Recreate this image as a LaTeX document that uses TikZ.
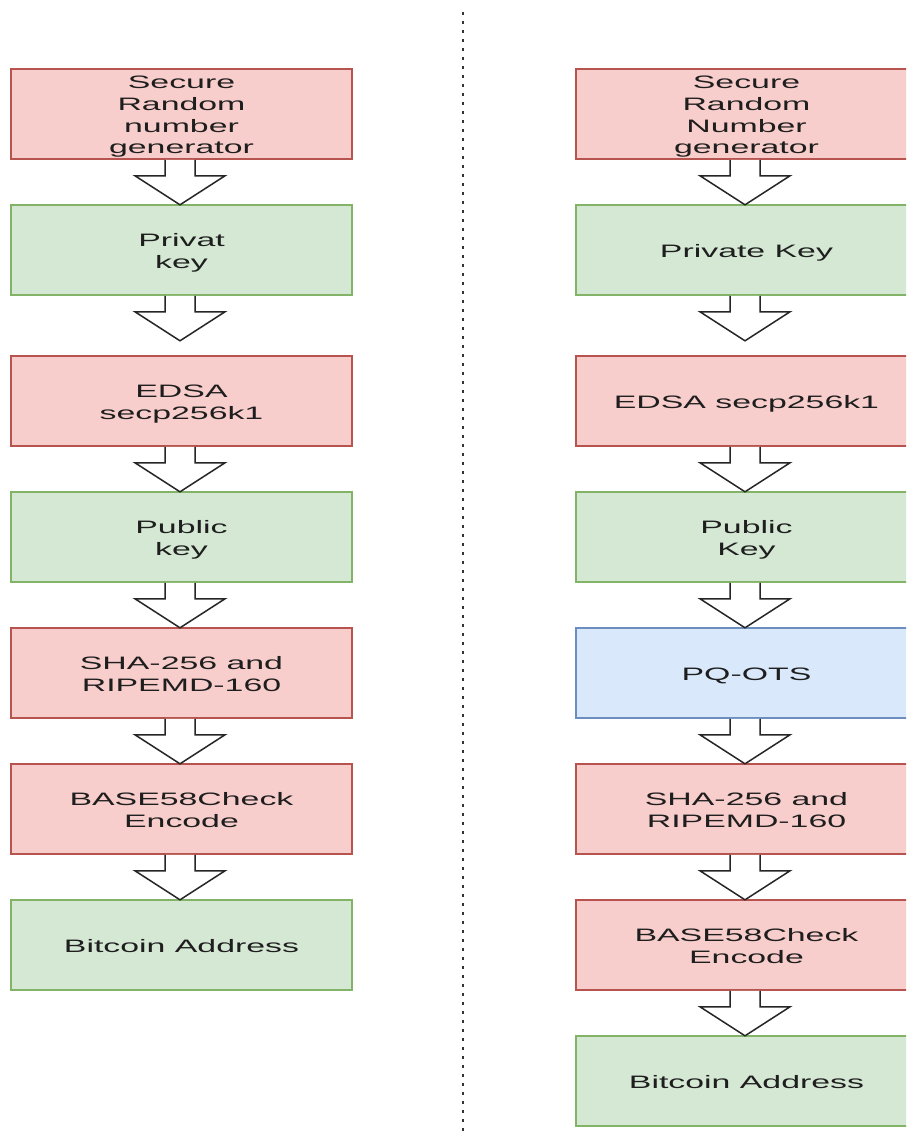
\documentclass[tikz,border=0pt]{standalone}
\usepackage{fontspec}
\setmainfont{Liberation Sans}
\usepackage{graphicx}
\usetikzlibrary{calc}

\definecolor{redfill}{HTML}{F8CECC}
\definecolor{redline}{HTML}{B85450}
\definecolor{greenfill}{HTML}{D5E8D4}
\definecolor{greenline}{HTML}{82B366}
\definecolor{bluefill}{HTML}{DAE8FC}
\definecolor{blueline}{HTML}{6C8EBF}
\definecolor{inkgray}{HTML}{1E1E1E}

% box captions: wide sans-serif lettering, centred lines, set slightly low
\newcommand\boxlabel[1]{\raisebox{-3pt}[\height][\depth]{\scalebox{1.88}[1]{\fontsize{18}{21.6}\selectfont\begin{tabular}{@{}c@{}}#1\end{tabular}}}}

\tikzset{
  stagebox/.style={rectangle, minimum width=341pt, minimum height=90pt,
    inner sep=0pt, line width=1.6pt, text=inkgray},
  redbox/.style={stagebox, fill=redfill, draw=redline},
  greenbox/.style={stagebox, fill=greenfill, draw=greenline},
  bluebox/.style={stagebox, fill=bluefill, draw=blueline},
  divider/.style={line width=2pt, draw=black!80, dash pattern=on 3pt off 6pt},
  arrowline/.style={fill=white, draw=black!85, line width=1.5pt, line join=miter},
  pics/flowarrow/.style={code={
    \filldraw[arrowline] (-15,0) -- (-15,16) -- (-45,16) -- (0,45)
      -- (45,16) -- (15,16) -- (15,0);
  }},
}

\begin{document}
\begin{tikzpicture}[x=1pt, y=-1pt]
\useasboundingbox (0,0) rectangle (906,1135);
\clip (0,0) rectangle (906,1135);
\fill[white] (0,0) rectangle (906,1135);

% dotted separator between the two pipelines
\coordinate (sepTop) at (463,12);
\coordinate (sepBot) at (463,1136);
\draw[divider] (sepTop) -- (sepBot);

% classic address derivation
\node[redbox]   (L1) at (181.5,114) {\boxlabel{Secure\\Random\\number\\generator}};
\node[greenbox] (L2) at (181.5,250) {\boxlabel{Privat\\key}};
\node[redbox]   (L3) at (181.5,401) {\boxlabel{EDSA\\secp256k1}};
\node[greenbox] (L4) at (181.5,537) {\boxlabel{Public\\key}};
\node[redbox]   (L5) at (181.5,673) {\boxlabel{SHA-256 and\\RIPEMD-160}};
\node[redbox]   (L6) at (181.5,809) {\boxlabel{BASE58Check\\Encode}};
\node[greenbox] (L7) at (181.5,945) {\boxlabel{Bitcoin Address}};

% derivation with a post-quantum one-time signature step
\node[redbox]   (R1) at (746.5,114)  {\boxlabel{Secure\\Random\\Number\\generator}};
\node[greenbox] (R2) at (746.5,250)  {\boxlabel{Private Key}};
\node[redbox]   (R3) at (746.5,401)  {\boxlabel{EDSA secp256k1}};
\node[greenbox] (R4) at (746.5,537)  {\boxlabel{Public\\Key}};
\node[bluebox]  (R5) at (746.5,673)  {\boxlabel{PQ-OTS}};
\node[redbox]   (R6) at (746.5,809)  {\boxlabel{SHA-256 and\\RIPEMD-160}};
\node[redbox]   (R7) at (746.5,945)  {\boxlabel{BASE58Check\\Encode}};
\node[greenbox] (R8) at (746.5,1081) {\boxlabel{Bitcoin Address}};

% block arrows hanging below each stage
\foreach \src in {L1,L2,L3,L4,L5,L6,R1,R2,R3,R4,R5,R6,R7}
  \pic at ($(\src.south)+(-1.5,0)$) {flowarrow};
\end{tikzpicture}
\end{document}
